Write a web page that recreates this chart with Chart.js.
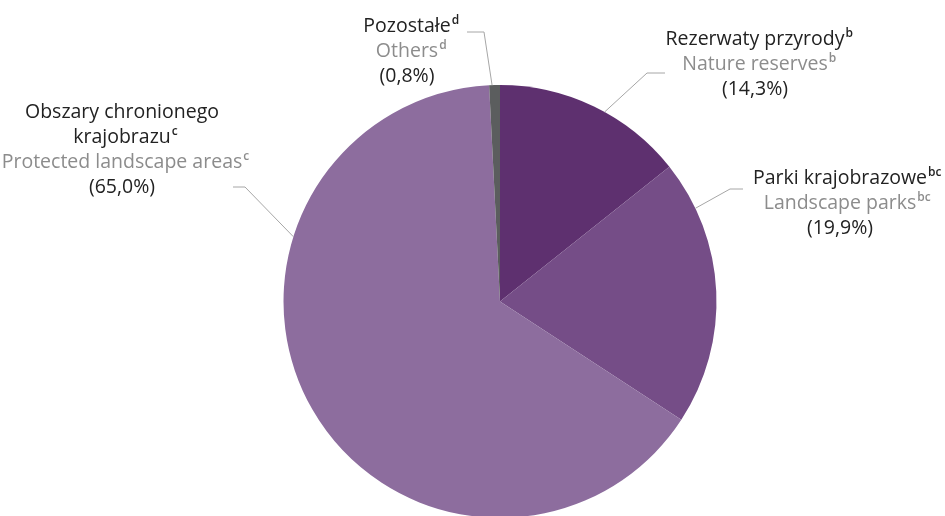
<!DOCTYPE html>
<html><head><meta charset="utf-8">
<script src="https://cdn.jsdelivr.net/npm/chart.js@4/dist/chart.umd.min.js"></script>
<style>html,body{margin:0;padding:0;background:#fff;overflow:hidden}
#wrap{width:945px;height:520px;position:relative}</style></head>
<body><div id="wrap"><canvas id="c"></canvas></div>
<script>
// ---- data ----
const categoriesPL = [['Rezerwaty przyrody'], ['Parki krajobrazowe'], ['Obszary chronionego', 'krajobrazu'], ['Pozostałe']];
const categoriesEN = ['Nature reserves', 'Landscape parks', 'Protected landscape areas', 'Others'];
const footnotes = ['b', 'bc', 'c', 'd'];
const shares = [14.3, 19.9, 65.0, 0.8];

// ---- styles / layout ----
const sliceColors = ['#5e306f', '#754d87', '#8d6d9e', '#5b5d5e'];
const FONT = '"Open Sans", "Noto Sans", sans-serif';
const mainSize = 19.5, supSize = 12, lineGap = 25;
const darkText = '#222222', greyText = '#8c8c8c', leaderColor = '#a6a6a6';
const labelLayout = [
  { cx: 755, y0: 45, anchorDeg: 28.9, elbow: [647, 73], end: [665, 73] },
  { cx: 840, y0: 184, anchorDeg: 64.5, elbow: [730, 189], end: [743, 189] },
  { cx: 122, y0: 118, anchorDeg: 287.4, elbow: [245, 187], end: [233, 187] },
  { cx: 407, y0: 32, anchorDeg: 357.9, elbow: [484, 32], end: [467, 32] }
];

function fmtPct(v) { return '(' + v.toFixed(1).replace('.', ',') + '%)'; }

function drawTextLine(ctx, text, sup, cx, baseline, color) {
  ctx.font = '500 ' + mainSize + 'px ' + FONT;
  const w = ctx.measureText(text).width;
  const x = cx - w / 2;
  ctx.fillStyle = color;
  ctx.textAlign = 'left';
  ctx.textBaseline = 'alphabetic';
  ctx.fillText(text, x, baseline);
  if (sup) {
    ctx.font = '600 ' + supSize + 'px ' + FONT;
    ctx.fillText(sup, x + w + 1, baseline - 8);
  }
}

const labelPlugin = {
  id: 'pieLabels',
  afterDraw(chart) {
    const ctx = chart.ctx;
    const arc = chart.getDatasetMeta(0).data[0];
    const cx0 = arc.x, cy0 = arc.y, r = arc.outerRadius;
    ctx.save();
    labelLayout.forEach((L, i) => {
      const a = (L.anchorDeg - 90) * Math.PI / 180;
      ctx.beginPath();
      ctx.moveTo(cx0 + r * Math.cos(a), cy0 + r * Math.sin(a));
      ctx.lineTo(L.elbow[0], L.elbow[1]);
      ctx.lineTo(L.end[0], L.end[1]);
      ctx.strokeStyle = leaderColor;
      ctx.lineWidth = 1;
      ctx.stroke();
      let y = L.y0;
      const pl = categoriesPL[i];
      pl.forEach((t, k) => {
        drawTextLine(ctx, t, k === pl.length - 1 ? footnotes[i] : '', L.cx, y, darkText);
        y += lineGap;
      });
      drawTextLine(ctx, categoriesEN[i], footnotes[i], L.cx, y, greyText);
      y += lineGap;
      drawTextLine(ctx, fmtPct(shares[i]), '', L.cx, y, darkText);
    });
    ctx.restore();
  }
};

new Chart(document.getElementById('c'), {
  type: 'pie',
  data: {
    labels: categoriesPL.map(l => l.join(' ')),
    datasets: [{ data: shares, backgroundColor: sliceColors, borderWidth: 0 }]
  },
  options: {
    responsive: true,
    maintainAspectRatio: false,
    animation: false,
    layout: { padding: { top: 85, bottom: 2, left: 283.5, right: 228.5 } },
    plugins: { legend: { display: false }, tooltip: { enabled: false } }
  },
  plugins: [labelPlugin]
});
</script>
</body></html>
